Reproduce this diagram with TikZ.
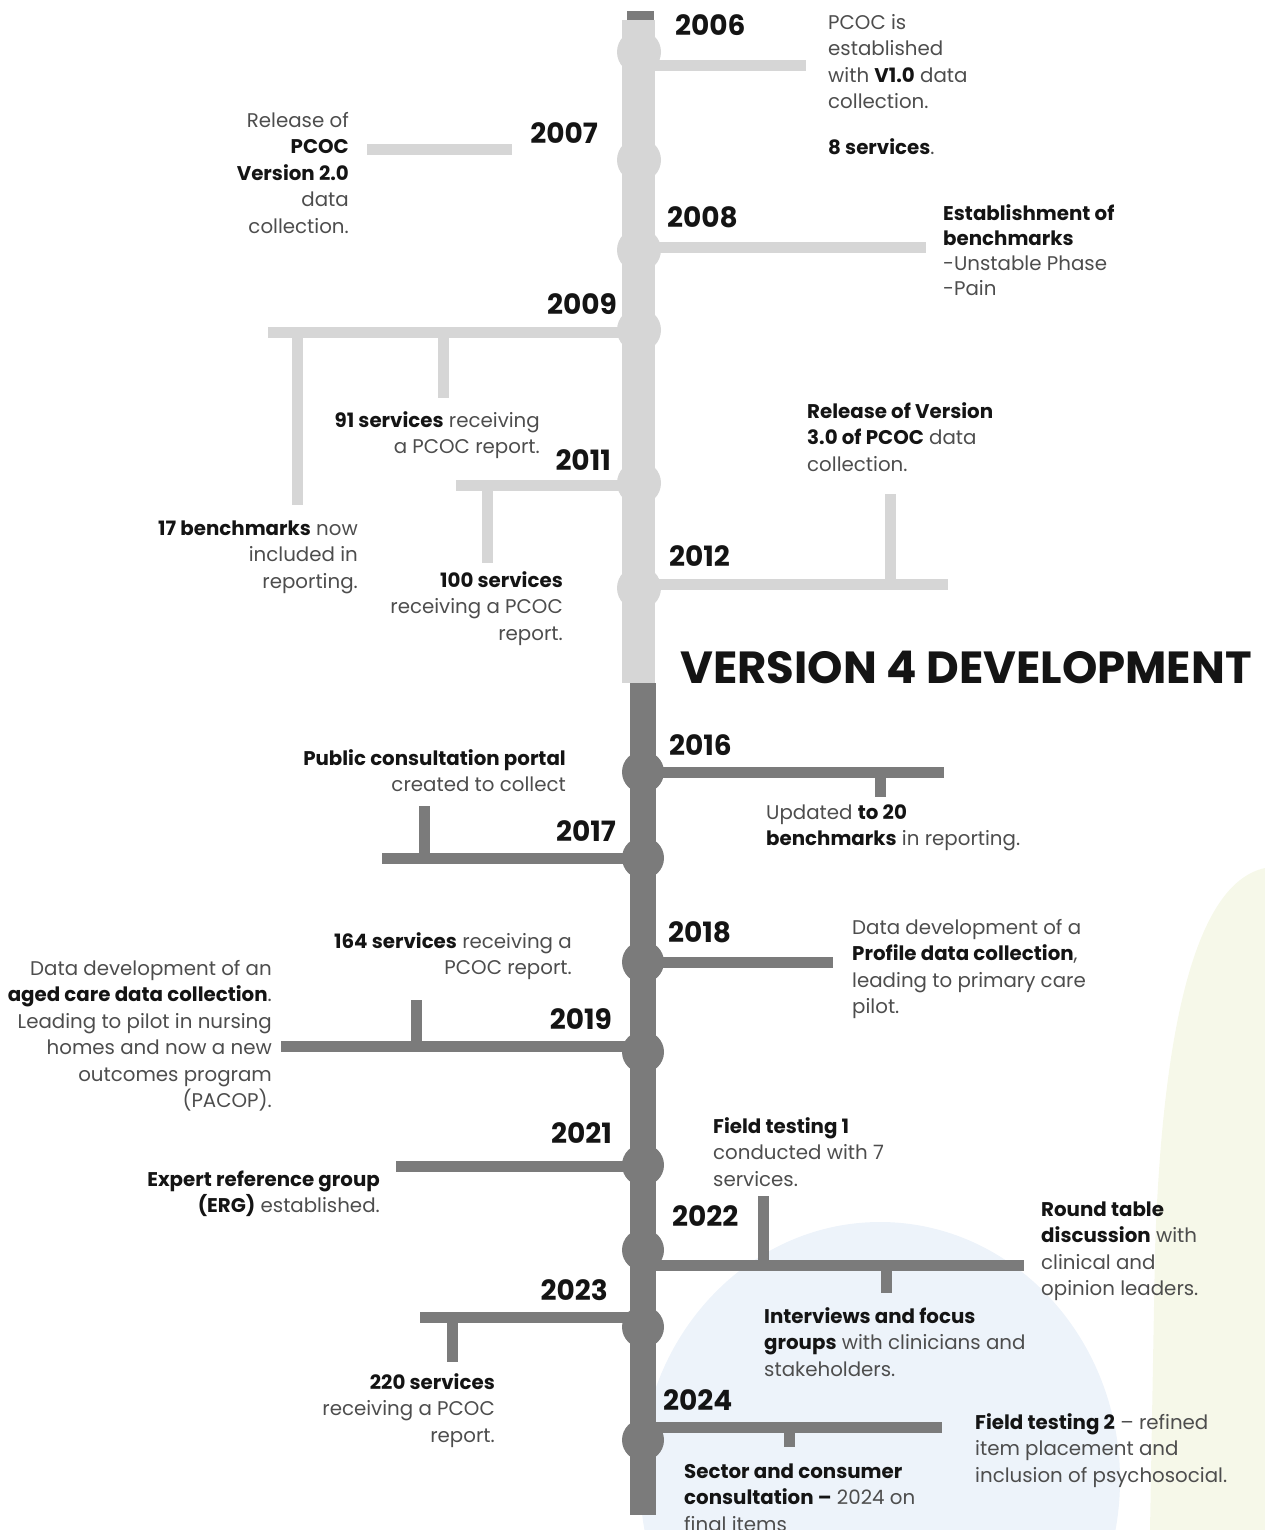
\documentclass[tikz,border=0pt]{standalone}
\usepackage{fontspec}
\setmainfont{Poppins}
\definecolor{bggreen}{HTML}{F6F8E9}
\definecolor{bgblue}{HTML}{EDF3FA}
\definecolor{lightbar}{HTML}{D6D6D6}
\definecolor{darkbar}{HTML}{7B7B7B}
\definecolor{txtgray}{HTML}{4D4D4D}
\definecolor{txtblack}{HTML}{141414}
\newcommand\kw[1]{\textbf{\color{txtblack}#1}}
\begin{document}
\begin{tikzpicture}[x=1pt,y=-1pt,
  lbar/.style={draw=lightbar,line width=11pt},
  dbar/.style={draw=darkbar,line width=11pt},
  txt/.style={font=\fontsize{19.8}{26.5}\selectfont,text=txtgray,inner sep=0pt},
  txtL/.style={txt,align=left,anchor=north west},
  txtR/.style={txt,align=right,anchor=north east},
  yearW/.style={font=\fontsize{28}{30}\selectfont\bfseries,text=txtblack,inner sep=0pt,anchor=base west},
  yearE/.style={font=\fontsize{28}{30}\selectfont\bfseries,text=txtblack,inner sep=0pt,anchor=base east}]
\useasboundingbox (0,0) rectangle (1265,1530);
% background shapes
\begin{scope}
\clip (0,0) rectangle (1265,1530);
\fill[bggreen] (1265,868) .. controls (1200,882) and (1163,1010) .. (1155,1250) -- (1150,1530) -- (1265,1530) -- cycle;
\fill[bgblue] (880,1480) ellipse [x radius=240, y radius=258];
\end{scope}
% upper branches
\draw[lbar] (639,66) -- (806,66);
\draw[lbar] (367,150) -- (512,150);
\draw[lbar] (639,248) -- (926,248);
\draw[lbar] (639,332) -- (268,332);
\draw[lbar] (297,332) -- (297,505);
\draw[lbar] (443,332) -- (443,398);
\draw[lbar] (639,485) -- (456,485);
\draw[lbar] (487,485) -- (487,563);
\draw[lbar] (639,584) -- (948,584);
\draw[lbar] (890,494) -- (890,584);
% lower branches
\draw[dbar] (643,772) -- (944,772);
\draw[dbar] (880,772) -- (880,797);
\draw[dbar] (643,858) -- (382,858);
\draw[dbar] (424,806) -- (424,858);
\draw[dbar] (643,962) -- (833,962);
\draw[dbar] (643,1046) -- (281,1046);
\draw[dbar] (416,1000) -- (416,1046);
\draw[dbar] (643,1166) -- (396,1166);
\draw[dbar] (643,1265) -- (1024,1265);
\draw[dbar] (763,1196) -- (763,1265);
\draw[dbar] (886,1265) -- (886,1293);
\draw[dbar] (643,1317) -- (420,1317);
\draw[dbar] (452,1317) -- (452,1362);
\draw[dbar] (643,1427) -- (942,1427);
\draw[dbar] (789,1427) -- (789,1447);
% spines
\fill[lightbar] (622,20) rectangle (655,683);
\fill[darkbar] (627,11) rectangle (654,20);
\foreach \yy in {52,160,250,330,483,588} \fill[lightbar] (639,\yy) circle [radius=22];
\fill[darkbar] (630,683) rectangle (656,1515);
\foreach \yy in {772,858,962,1052,1165,1250,1327,1440} \fill[darkbar] (643,\yy) circle [radius=21];
% years
\node[yearW] (y2006) at (675,36) {2006};
\node[yearE] (y2007) at (598,144) {2007};
\node[yearW] (y2008) at (667,228) {2008};
\node[yearE] (y2009) at (617,314) {2009};
\node[yearE] (y2011) at (611,470) {2011};
\node[yearW] (y2012) at (669,566) {2012};
\node[yearW] (y2016) at (669,755) {2016};
\node[yearE] (y2017) at (616,841) {2017};
\node[yearW] (y2018) at (668,942) {2018};
\node[yearE] (y2019) at (612,1029) {2019};
\node[yearE] (y2021) at (612,1143) {2021};
\node[yearW] (y2022) at (672,1226) {2022};
\node[yearE] (y2023) at (608,1300) {2023};
\node[yearW] (y2024) at (663,1410) {2024};
% title
\node[font=\fontsize{45}{48}\selectfont\bfseries,text=txtblack,inner sep=0pt,anchor=base west] (title) at (680,683) {VERSION 4 DEVELOPMENT};
% texts
\node[txtL] (t2006) at (828,10.5) {\strut PCOC is\\established\\with \kw{V1.0} data\\collection.};
\node[txtL] (t2006b) at (828,135.5) {\strut\kw{8 services}.};
\node[txtR] (t2007) at (349,108.5) {\strut Release of\\\kw{PCOC}\\\kw{Version 2.0}\\data\\collection.};
\node[txtL,font=\fontsize{19.8}{25}\selectfont] (t2008) at (943,202.5) {\strut\kw{Establishment of}\\\kw{benchmarks}\\-Unstable Phase\\-Pain};
\node[txtR] (t91) at (540,408.5) {\strut\kw{91 services} receiving\\a PCOC report.};
\node[txtR] (t17) at (358,516.5) {\strut\kw{17 benchmarks} now\\included in\\reporting.};
\node[txtR] (t100) at (563,568.5) {\strut\kw{100 services}\\receiving a PCOC\\report.};
\node[txtL] (t2012) at (807,399.5) {\strut\kw{Release of Version}\\\kw{3.0 of PCOC} data\\collection.};
\node[txtL] (t2016) at (766,800.5) {\strut Updated \kw{to 20}\\\kw{benchmarks} in reporting.};
\node[txtR] (t2017) at (566,746.5) {\strut\kw{Public consultation portal}\\created to collect};
\node[txtL] (t2018) at (852,915.5) {\strut Data development of a\\\kw{Profile data collection},\\leading to primary care\\pilot.};
\node[txtR] (t164) at (572,929.5) {\strut\kw{164 services} receiving a\\PCOC report.};
\node[txtR] (t2019) at (272,956.5) {\strut Data development of an\\\kw{aged care data collection}.\\Leading to pilot in nursing\\homes and now a new\\outcomes program\\(PACOP).};
\node[txtR] (t2021) at (380,1167.5) {\strut\kw{Expert reference group}\\\kw{(ERG)} established.};
\node[txtL] (tft1) at (713,1114.5) {\strut\kw{Field testing 1}\\conducted with 7\\services.};
\node[txtL] (tround) at (1041,1197.5) {\strut\kw{Round table}\\\kw{discussion} with\\clinical and\\opinion leaders.};
\node[txtL] (tint) at (764,1304.5) {\strut\kw{Interviews and focus}\\\kw{groups} with clinicians and\\stakeholders.};
\node[txtR] (t220) at (495,1370.5) {\strut\kw{220 services}\\receiving a PCOC\\report.};
\node[txtL] (tsector) at (684,1459.5) {\strut\kw{Sector and consumer}\\\kw{consultation –} 2024 on\\final items};
\node[txtL] (tft2) at (975,1410.5) {\strut\kw{Field testing 2} – refined\\item placement and\\inclusion of psychosocial.};
\end{tikzpicture}
\end{document}
